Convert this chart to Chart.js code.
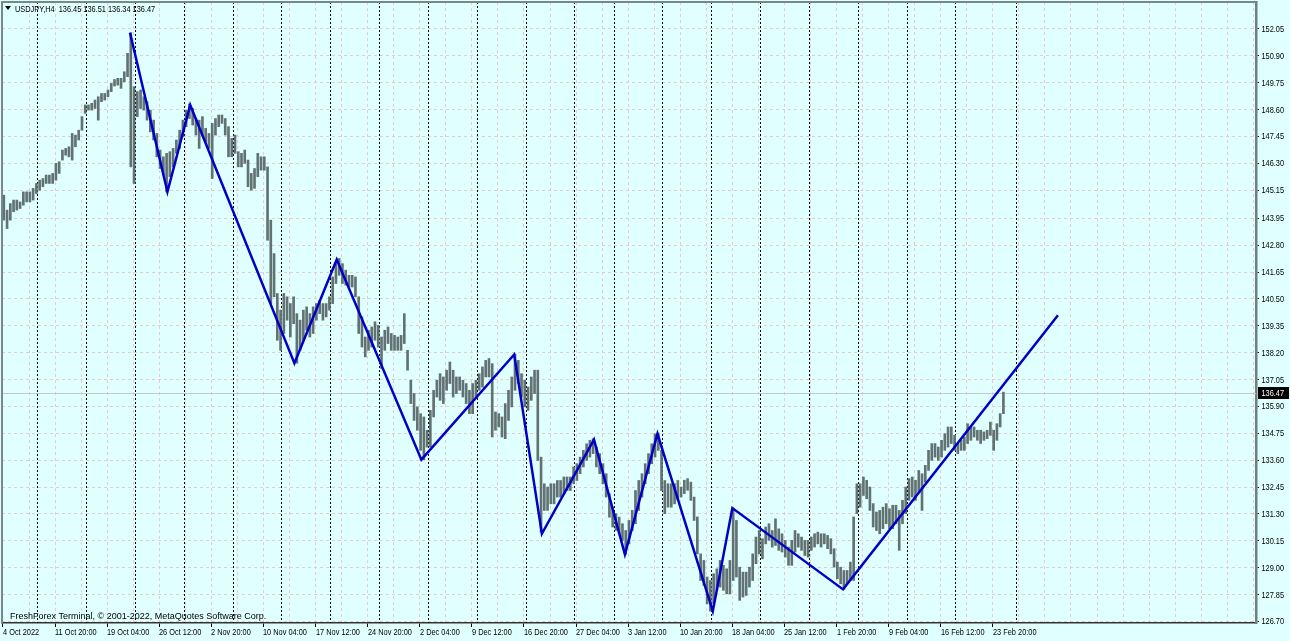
<!DOCTYPE html>
<html>
<head>
<meta charset="utf-8">
<script src="https://cdn.jsdelivr.net/npm/chart.js@4.4.1/dist/chart.umd.min.js"></script>
<style>
  html, body { margin: 0; padding: 0; background: #e0ffff; overflow: hidden; }
  canvas { display: block; }
</style>
</head>
<body>
<canvas id="chart" width="1290" height="641"></canvas>
<script>
// USDJPY H4 — one entry per two H4 bars (high / low)
const highs = [
  144.94,144.30,144.58,144.73,144.73,144.65,145.08,145.08,145.08,145.23,
  145.44,145.58,145.65,145.80,145.80,145.87,146.30,146.37,146.87,146.94,
  147.01,147.58,147.51,147.72,148.30,148.80,148.80,148.87,149.01,149.15,
  149.29,149.29,149.44,149.72,149.89,149.94,149.94,150.22,151.01,151.89,
  149.58,149.37,149.44,149.15,148.94,148.58,148.15,147.58,146.87,146.58,
  146.73,146.80,146.94,147.30,147.72,148.15,148.58,148.84,148.65,148.22,
  148.15,148.30,147.80,147.58,148.01,148.22,148.37,148.37,148.22,147.87,
  147.37,147.51,146.80,146.73,146.87,146.44,145.87,146.08,146.73,146.58,
  146.58,146.15,143.87,142.44,140.73,140.02,140.73,140.59,140.30,140.59,
  139.87,139.59,140.02,140.16,139.87,140.16,140.30,140.44,140.30,140.30,
  140.59,141.44,142.01,142.23,142.01,141.73,141.51,141.51,141.44,140.59,
  139.73,138.87,139.16,139.30,139.52,139.37,138.87,139.16,139.30,139.02,
  138.94,138.87,138.94,139.87,138.30,137.02,136.45,135.88,135.59,135.45,
  134.88,135.73,136.59,137.02,137.30,137.16,137.45,137.80,137.45,137.16,
  137.16,137.02,136.88,136.59,136.88,137.02,137.30,137.59,137.87,137.95,
  137.73,135.66,135.59,135.45,136.02,136.59,137.16,138.13,137.87,137.30,
  137.02,136.73,137.16,137.45,137.45,133.73,132.59,132.45,132.59,132.59,
  132.73,132.73,132.88,132.88,132.88,133.31,133.45,133.73,134.02,134.30,
  134.45,134.52,134.16,133.88,133.45,133.02,132.16,131.59,131.31,131.16,
  130.88,130.59,131.02,131.45,132.30,132.73,133.02,133.45,133.88,134.30,
  134.73,134.76,134.02,132.73,132.59,132.59,132.59,132.73,132.45,132.74,
  132.81,132.66,132.02,131.17,129.59,129.31,128.60,128.45,128.74,128.95,
  129.31,129.10,128.95,129.31,131.55,131.02,129.02,128.81,128.81,129.02,
  129.59,130.31,130.59,130.24,130.74,130.88,130.59,131.09,130.66,130.45,
  130.17,129.88,130.17,130.59,130.45,130.31,130.17,130.17,130.31,130.45,
  130.52,130.45,130.45,130.38,130.24,129.81,129.24,129.02,128.88,128.88,
  129.24,131.17,132.59,132.59,132.88,132.74,132.45,131.74,131.38,131.45,
  131.59,131.74,131.52,131.67,131.67,131.45,131.88,132.45,132.81,132.88,
  132.74,133.16,133.02,133.38,134.02,134.31,134.31,134.16,134.45,134.73,
  135.02,135.02,134.66,134.31,134.45,134.59,135.16,135.02,135.02,134.88,
  134.88,134.81,134.88,135.23,134.88,135.16,135.59,136.51
];
const lows = [
  143.87,143.51,143.87,144.23,144.30,144.37,144.51,144.65,144.65,144.73,
  145.01,145.15,145.30,145.44,145.44,145.44,145.58,145.87,146.44,146.65,
  146.58,146.44,147.01,147.30,147.72,148.44,148.58,148.58,148.65,148.15,
  148.94,149.01,149.15,149.37,149.61,149.65,149.51,149.79,150.01,146.15,
  145.44,148.30,148.65,148.58,148.15,147.65,147.30,146.58,146.08,145.80,
  145.08,145.73,146.15,146.73,146.94,147.44,147.87,148.22,147.94,147.51,
  146.94,147.51,147.22,146.94,145.65,147.51,147.87,148.01,147.51,146.58,
  146.58,146.73,146.15,146.15,146.30,145.30,145.15,145.23,145.73,146.01,
  146.01,143.01,140.30,140.59,138.73,138.30,139.02,139.59,138.87,139.44,
  137.75,138.30,138.73,139.16,138.87,139.02,139.59,139.87,139.59,139.73,
  140.02,140.30,141.16,141.51,141.16,141.09,141.01,141.01,140.59,139.02,
  138.44,138.02,138.30,138.44,138.73,138.44,137.52,138.30,138.59,138.30,
  138.30,138.30,138.30,138.59,137.45,136.02,135.30,134.88,134.02,133.62,
  134.16,134.16,135.45,136.30,136.16,136.02,136.59,136.88,136.30,136.45,
  136.59,136.30,136.02,135.59,135.59,136.30,136.59,136.73,137.16,137.16,
  134.59,134.88,135.02,134.59,134.52,135.30,135.88,136.59,136.88,136.30,
  135.88,135.73,136.16,136.45,133.59,130.52,131.45,131.45,131.73,131.73,
  132.02,132.02,132.16,132.30,132.30,132.59,132.73,133.02,133.31,133.59,
  133.73,133.88,133.31,133.02,132.59,132.02,131.16,130.74,130.59,130.45,
  130.16,129.57,130.02,130.59,130.88,131.45,132.02,132.59,133.02,133.45,
  133.73,134.02,132.30,131.31,131.59,131.59,131.73,131.88,132.02,132.17,
  132.31,131.88,131.02,129.59,128.45,128.24,127.45,127.14,127.45,128.03,
  128.17,128.03,127.88,127.88,128.45,128.60,127.60,127.74,127.81,128.17,
  128.45,129.17,129.59,129.38,130.02,130.17,129.88,129.95,129.74,129.67,
  129.45,129.10,129.10,129.67,129.88,129.74,129.52,129.45,129.74,129.88,
  130.02,129.88,130.02,129.81,129.59,129.02,128.52,128.31,128.07,128.31,
  128.45,128.45,131.31,131.59,132.09,131.95,131.45,130.74,130.59,130.45,
  130.67,130.88,130.67,130.67,130.88,129.74,130.88,131.31,131.88,132.02,
  131.88,132.24,131.45,132.66,133.16,133.59,133.73,133.59,133.73,134.02,
  134.16,134.31,134.02,133.88,134.02,134.02,134.31,134.45,134.59,134.45,
  134.31,134.45,134.52,134.66,134.02,134.45,135.02,135.59
];

// zigzag turning points: H4 bar number and price
const zigBars   = [78, 101, 115, 179, 205, 257, 314, 331, 363, 382, 402, 436, 448, 516, 648];
const zigPrices = [151.89, 145.08, 148.80, 137.75, 142.19, 133.62, 138.12, 130.45, 134.48, 129.57, 134.73, 127.14, 131.55, 128.07, 139.80];

// axis texts
const priceTicks = [152.05,150.90,149.75,148.60,147.45,146.30,145.15,143.95,142.80,141.65,140.50,
                    139.35,138.20,137.05,135.90,134.75,133.60,132.45,131.30,130.15,129.00,127.85,126.70];
const timeLabels = ["4 Oct 2022","11 Oct 20:00","19 Oct 04:00","26 Oct 12:00","2 Nov 20:00","10 Nov 04:00",
  "17 Nov 12:00","24 Nov 20:00","2 Dec 04:00","9 Dec 12:00","16 Dec 20:00","27 Dec 04:00","3 Jan 12:00",
  "10 Jan 20:00","18 Jan 04:00","25 Jan 12:00","1 Feb 20:00","9 Feb 04:00","16 Feb 12:00","23 Feb 20:00"];
const weekSeparators = [21,51,81,111,141,171,201,231,261,291,321,351,375,405,435,465,495,525,555,585,622];
const lastBar = [136.45, 136.51, 136.34, 136.47]; // O H L C
const symbol = "USDJPY,H4";

const BARS_PER_ENTRY = 2;
const LABEL_STEP = 32;
const GRID_STEP = 16;
const FONT = "'Liberation Sans', Arial, sans-serif";
const NARROW = 0.82;   // the terminal font is narrower than Liberation Sans
const BG = '#e0ffff';

function narrowText(c, text, x, y) {
  c.save();
  c.translate(x, y);
  c.scale(NARROW, 1);
  c.fillText(text, 0, 0);
  c.restore();
}

const decor = {
  id: 'decor',
  beforeDraw(chart) {
    const c = chart.ctx;
    c.save();
    c.fillStyle = BG;
    c.fillRect(0, 0, chart.width, chart.height);
    c.restore();
  },
  beforeDatasetsDraw(chart) {
    const c = chart.ctx, a = chart.chartArea, x = chart.scales.x, y = chart.scales.y;
    c.save();
    // weekly separators
    c.strokeStyle = '#000';
    c.lineWidth = 1;
    c.setLineDash([2, 2]);
    weekSeparators.forEach(b => {
      const px = Math.round(x.getPixelForValue(b)) + 0.5;
      c.beginPath(); c.moveTo(px, a.top); c.lineTo(px, a.bottom); c.stroke();
    });
    // bid line
    c.setLineDash([]);
    c.strokeStyle = '#c8c8c8';
    const by = Math.round(y.getPixelForValue(lastBar[3])) + 0.5;
    c.beginPath(); c.moveTo(a.left, by); c.lineTo(a.right, by); c.stroke();
    c.restore();
  },
  afterDraw(chart) {
    const c = chart.ctx, a = chart.chartArea, x = chart.scales.x, y = chart.scales.y;
    c.save();
    // frame top + left
    c.strokeStyle = '#778888';
    c.lineWidth = 2;
    c.beginPath();
    c.moveTo(a.left, a.bottom); c.lineTo(a.left, a.top); c.lineTo(a.right, a.top);
    c.stroke();

    c.fillStyle = '#000';
    c.font = '9px ' + FONT;
    // price scale
    c.textBaseline = 'middle';
    priceTicks.forEach(v => narrowText(c, v.toFixed(2), a.right + 5.5, Math.round(y.getPixelForValue(v)) + 0.5));
    // time scale
    c.textBaseline = 'alphabetic';
    timeLabels.forEach((t, i) => narrowText(c, t, Math.round(x.getPixelForValue(i * LABEL_STEP)), a.bottom + 11.5));
    // header
    c.beginPath(); c.moveTo(5, 6); c.lineTo(11, 6); c.lineTo(8, 10); c.closePath(); c.fill();
    narrowText(c, symbol + '  ' + lastBar.map(v => v.toFixed(2)).join(' '), 15, 12);
    // copyright
    c.fillText('FreshForex Terminal, \u00a9 2001-2022, MetaQuotes Software Corp.', 10, 619);
    // last price box
    const py = Math.round(y.getPixelForValue(lastBar[3]));
    c.fillStyle = '#000';
    c.fillRect(a.right + 2, py - 6, 31, 12);
    c.fillStyle = '#fff';
    c.textBaseline = 'middle';
    narrowText(c, lastBar[3].toFixed(2), a.right + 5.5, py + 0.5);
    c.restore();
  }
};

const barData = highs.map((h, k) => ({ x: k * BARS_PER_ENTRY + 0.5, y: [lows[k], h] }));
const zigData = zigBars.map((b, i) => ({ x: b, y: zigPrices[i] }));

const noPad = s => { s.paddingTop = 0; s.paddingBottom = 0; s.paddingLeft = 0; s.paddingRight = 0; };

new Chart(document.getElementById('chart'), {
  type: 'bar',
  data: {
    datasets: [
      {
        type: 'line',
        data: zigData,
        borderColor: '#0000c8',
        borderWidth: 2.5,
        pointRadius: 0,
        tension: 0,
        order: 0
      },
      {
        type: 'bar',
        data: barData,
        backgroundColor: '#627272',
        borderWidth: 0,
        barThickness: 2,
        grouped: false,
        order: 1
      }
    ]
  },
  options: {
    responsive: false,
    animation: false,
    events: [],
    layout: { padding: { left: 2, top: 2, right: 0, bottom: 0 } },
    plugins: { legend: { display: false }, tooltip: { enabled: false } },
    scales: {
      x: {
        type: 'linear',
        min: -0.614,
        max: 769.65,
        offset: false,
        afterBuildTicks: s => {
          const t = [];
          for (let v = 0; v <= 768; v += GRID_STEP) t.push({ value: v });
          s.ticks = t;
        },
        afterFit: s => { s.height = 18; noPad(s); },
        ticks: { display: false, autoSkip: false, maxRotation: 0 },
        grid: {
          color: '#e6cccc',
          offset: false,
          tickLength: 4,
          tickColor: ctx => (ctx.tick && ctx.tick.value % LABEL_STEP === 0 && ctx.tick.value / LABEL_STEP < timeLabels.length ? '#000' : 'rgba(0,0,0,0)')
        },
        border: { color: '#333', width: 1.5, dash: [3, 3] }
      },
      y: {
        position: 'right',
        min: 126.632,
        max: 153.205,
        afterBuildTicks: s => { s.ticks = priceTicks.map(v => ({ value: v })); },
        afterFit: s => { s.width = 34; noPad(s); },
        ticks: { display: false },
        grid: {
          color: '#e6cccc',
          tickLength: 3,
          tickColor: '#000'
        },
        border: { color: '#6f7f7f', width: 2.5, dash: [3, 3] }
      }
    }
  },
  plugins: [decor]
});
</script>
</body>
</html>
